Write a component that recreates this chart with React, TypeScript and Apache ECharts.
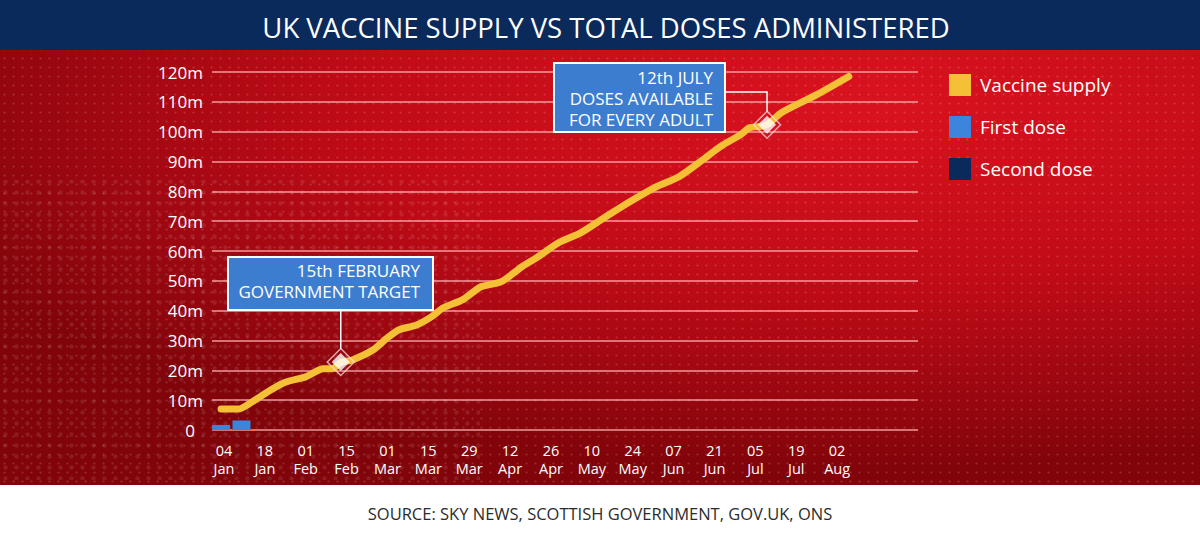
import React, { useEffect, useRef } from 'react';
import * as echarts from 'echarts';

const TITLE = 'UK VACCINE SUPPLY VS TOTAL DOSES ADMINISTERED';
const SOURCE = 'SOURCE: SKY NEWS, SCOTTISH GOVERNMENT, GOV.UK, ONS';

// Vaccine supply (millions of doses)
const supplyDates = [
  '2021-01-03', '2021-01-09', '2021-01-12', '2021-01-20', '2021-01-25', '2021-02-01',
  '2021-02-07', '2021-02-10', '2021-02-13', '2021-02-17', '2021-02-24', '2021-03-01',
  '2021-03-05', '2021-03-11', '2021-03-16', '2021-03-20', '2021-03-27', '2021-04-02',
  '2021-04-09', '2021-04-16', '2021-04-21', '2021-04-29', '2021-05-06', '2021-05-14',
  '2021-05-23', '2021-06-01', '2021-06-09', '2021-06-17', '2021-06-23', '2021-06-30',
  '2021-07-03', '2021-07-06', '2021-07-09', '2021-07-14', '2021-07-26', '2021-08-06',
];
const supplyValues = [
  7.0, 7.0, 8.4, 13.4, 16.0, 17.8,
  20.5, 20.5, 22.6, 23.5, 26.8, 30.9,
  33.6, 35.2, 37.9, 40.9, 43.8, 48.0,
  49.7, 54.7, 57.7, 63.0, 66.0, 71.0,
  76.5, 81.5, 85.0, 90.6, 95.0, 99.0,
  101.3, 101.7, 102.3, 106.4, 112.4, 118.5,
];

// Doses administered (millions), weekly
const doseDates = ['2021-01-03', '2021-01-10'];
const firstDoseValues = [1.7, 3.2];
const secondDoseValues = [0.2, 1.7];

// X tick labels
const tickDates = [
  '2021-01-04', '2021-01-18', '2021-02-01', '2021-02-15', '2021-03-01', '2021-03-15',
  '2021-03-29', '2021-04-12', '2021-04-26', '2021-05-10', '2021-05-24', '2021-06-07',
  '2021-06-21', '2021-07-05', '2021-07-19', '2021-08-02',
];
const tickLabels = [
  '04\nJan', '18\nJan', '01\nFeb', '15\nFeb', '01\nMar', '15\nMar',
  '29\nMar', '12\nApr', '26\nApr', '10\nMay', '24\nMay', '07\nJun',
  '21\nJun', '05\nJul', '19\nJul', '02\nAug',
];

// Milestones
const milestoneDates = ['2021-02-13', '2021-07-09'];
const milestoneValues = [22.8, 102.3];
const milestoneNotes = [
  ['15th FEBRUARY', 'GOVERNMENT TARGET'],
  ['12th JULY', 'DOSES AVAILABLE', 'FOR EVERY ADULT'],
];

const SERIES_NAMES = ['Vaccine supply', 'First dose', 'Second dose'];
const COLORS = { supply: '#f4c136', first: '#3d84dc', second: '#0b2a5c' };

const ORIGIN = Date.UTC(2021, 0, 4);
const dayOf = (s: string) => (Date.parse(s + 'T00:00:00Z') - ORIGIN) / 86400000;

const FONT = "'Open Sans', sans-serif";

function makeDots(size: number, r: number, alpha: number): string {
  const c = document.createElement('canvas');
  c.width = size;
  c.height = size;
  const ctx = c.getContext('2d');
  if (ctx) {
    ctx.fillStyle = `rgba(255,255,255,${alpha})`;
    ctx.beginPath();
    ctx.arc(size / 2, size / 2, r, 0, Math.PI * 2);
    ctx.fill();
  }
  return c.toDataURL();
}

export default function App() {
  const ref = useRef<HTMLDivElement>(null);

  useEffect(() => {
    document.body.style.margin = '0';
    if (!ref.current) return;
    const chart = echarts.init(ref.current, undefined, { renderer: 'svg' });

    const tickDays = tickDates.map(dayOf);
    const labelFor = (v: number) => {
      const i = tickDays.findIndex((d) => Math.abs(d - v) < 0.01);
      return i >= 0 ? tickLabels[i] : '';
    };

    const option: any = {
      animation: false,
      backgroundColor: '#ffffff',
      textStyle: { fontFamily: FONT },
      grid: {
        left: 212,
        right: 282,
        top: 72,
        bottom: 118,
        containLabel: false,
        outerBoundsMode: 'none',
      },
      legend: {
        orient: 'vertical',
        left: 944,
        top: 69,
        itemWidth: 22,
        itemHeight: 22,
        itemGap: 20,
        icon: 'rect',
        data: SERIES_NAMES,
        textStyle: { color: '#ffffff', fontSize: 19, fontFamily: FONT, padding: [0, 0, 0, 4] },
      },
      xAxis: {
        type: 'value',
        min: -4.1,
        max: 237.7,
        axisLine: { show: false },
        axisTick: { show: false },
        splitLine: { show: false },
        axisLabel: {
          customValues: tickDays,
          formatter: (v: number) => labelFor(v),
          color: '#ffffff',
          fontSize: 14.5,
          lineHeight: 18,
          margin: 11,
          fontFamily: FONT,
        },
      },
      yAxis: {
        type: 'value',
        min: 0,
        max: 120,
        interval: 10,
        axisLine: { show: false },
        axisTick: { show: false },
        axisLabel: {
          formatter: (v: number) => (v === 0 ? '{z|0}' : `${v}m`),
          color: '#ffffff',
          fontSize: 17,
          margin: 9,
          fontFamily: FONT,
          rich: { z: { color: '#ffffff', fontSize: 17, fontFamily: FONT, padding: [0, 8, 0, 0] } },
        },
        splitLine: { lineStyle: { color: 'rgba(255,180,180,0.85)', width: 1.5 } },
      },
      series: [
        {
          name: 'Second dose',
          type: 'bar',
          stack: 'doses',
          barWidth: 18,
          itemStyle: { color: COLORS.second },
          data: doseDates.map((d, i) => [dayOf(d), secondDoseValues[i]]),
          z: 2,
        },
        {
          name: 'First dose',
          type: 'bar',
          stack: 'doses',
          barWidth: 18,
          itemStyle: { color: COLORS.first },
          data: doseDates.map((d, i) => [dayOf(d), firstDoseValues[i]]),
          z: 2,
        },
        {
          name: 'Vaccine supply',
          type: 'line',
          showSymbol: false,
          smooth: 0.25,
          itemStyle: { color: COLORS.supply },
          lineStyle: { color: COLORS.supply, width: 7, cap: 'round', join: 'round' },
          data: supplyDates.map((d, i) => [dayOf(d), supplyValues[i]]),
          z: 3,
        },
        {
          name: 'milestoneOuter',
          type: 'scatter',
          symbol: 'diamond',
          symbolSize: 27,
          itemStyle: { color: 'rgba(0,0,0,0)', borderColor: 'rgba(255,215,215,0.95)', borderWidth: 1.5 },
          data: milestoneDates.map((d, i) => [dayOf(d), milestoneValues[i]]),
          z: 4,
        },
        {
          name: 'milestone',
          type: 'scatter',
          symbol: 'diamond',
          symbolSize: 18,
          itemStyle: { color: '#ffffff' },
          data: milestoneDates.map((d, i) => [dayOf(d), milestoneValues[i]]),
          z: 5,
        },
      ],
    };

    chart.setOption(option);

    const p0 = chart.convertToPixel({ gridIndex: 0 }, [dayOf(milestoneDates[0]), milestoneValues[0]]) as number[];
    const p1 = chart.convertToPixel({ gridIndex: 0 }, [dayOf(milestoneDates[1]), milestoneValues[1]]) as number[];

    const dotsSmall = makeDots(9, 1.1, 0.16);
    const dotsBig = makeDots(11, 2.2, 0.12);

    const boxText = (lines: string[], right: number, top: number, lh: number) =>
      lines.map((t, i) => ({
        type: 'text',
        z: 101,
        style: {
          text: t,
          x: right,
          y: top + i * lh,
          align: 'right',
          verticalAlign: 'middle',
          fill: '#ffffff',
          font: `17px ${FONT}`,
        },
      }));

    const graphic: any[] = [
      // red panel
      {
        type: 'rect',
        z: -10,
        silent: true,
        shape: { x: 0, y: 50, width: 1200, height: 435 },
        style: {
          fill: {
            type: 'radial',
            x: 0.72,
            y: 0.12,
            r: 0.85,
            colorStops: [
              { offset: 0, color: '#da121f' },
              { offset: 0.5, color: '#c00b17' },
              { offset: 1, color: '#80040a' },
            ],
          },
        },
      },
      {
        type: 'rect',
        z: -9,
        silent: true,
        shape: { x: 0, y: 50, width: 1200, height: 435 },
        style: { fill: { image: dotsSmall, repeat: 'repeat' } },
      },
      {
        type: 'rect',
        z: -9,
        silent: true,
        shape: { x: 0, y: 180, width: 480, height: 300 },
        style: { fill: { image: dotsBig, repeat: 'repeat' }, opacity: 0.8 },
      },
      // title band
      {
        type: 'rect',
        z: -8,
        silent: true,
        shape: { x: 0, y: 0, width: 1200, height: 50 },
        style: { fill: '#0b2a5c' },
      },
      {
        type: 'text',
        z: 10,
        style: {
          text: TITLE,
          x: 606,
          y: 27,
          align: 'center',
          verticalAlign: 'middle',
          fill: '#ffffff',
          font: `27.5px ${FONT}`,
        },
      },
      // source
      {
        type: 'text',
        z: 10,
        style: {
          text: SOURCE,
          x: 600,
          y: 513,
          align: 'center',
          verticalAlign: 'middle',
          fill: '#2b2b2b',
          font: `16.5px ${FONT}`,
        },
      },
      // annotation 1
      {
        type: 'line',
        z: 99,
        shape: { x1: p0[0], y1: 310, x2: p0[0], y2: p0[1] - 13 },
        style: { stroke: '#ffffff', lineWidth: 1.5 },
      },
      {
        type: 'rect',
        z: 100,
        shape: { x: 228, y: 257, width: 205, height: 53 },
        style: { fill: '#3c7dd0', stroke: '#ffffff', lineWidth: 2 },
      },
      ...boxText(milestoneNotes[0], 420, 270, 21),
      // annotation 2
      {
        type: 'polyline',
        z: 99,
        shape: { points: [[725, 92], [p1[0], 92], [p1[0], p1[1] - 13]] },
        style: { stroke: '#ffffff', lineWidth: 1.5, fill: 'none' },
      },
      {
        type: 'rect',
        z: 100,
        shape: { x: 554, y: 63, width: 171, height: 69 },
        style: { fill: '#3c7dd0', stroke: '#ffffff', lineWidth: 2 },
      },
      ...boxText(milestoneNotes[1], 713, 77, 21),
    ];

    chart.setOption({ graphic });

    return () => chart.dispose();
  }, []);

  return (
    <div
      ref={ref}
      style={{ position: 'absolute', left: 0, top: 0, width: 1200, height: 548 }}
    />
  );
}
